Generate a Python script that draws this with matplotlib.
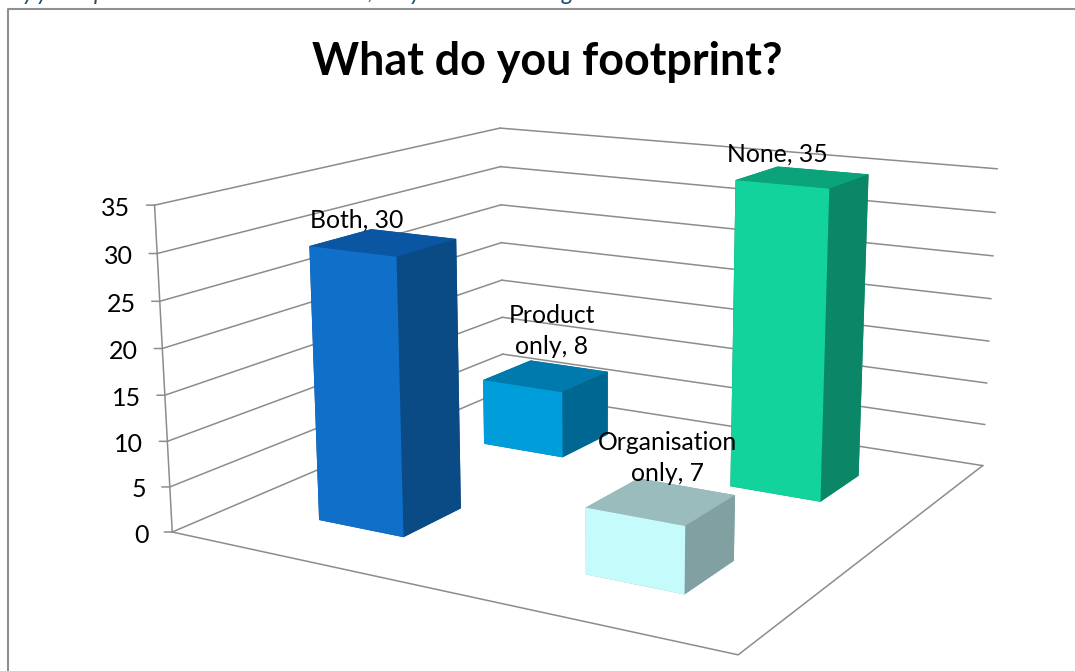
import matplotlib
matplotlib.use('Agg')
import matplotlib.pyplot as plt
from matplotlib.lines import Line2D
from mpl_toolkits.mplot3d import proj3d

plt.rcParams['font.family'] = ['Lato', 'DejaVu Sans']

# Dữ liệu
categories = ['Both', 'Product\nonly', 'Organisation\nonly', 'None']
values = [30, 8, 7, 35]
col_pos = [0, 0, 1, 1]
row_pos = [0, 1, 0, 1]
ticks = [0, 5, 10, 15, 20, 25, 30, 35]
label_offsets = [(-27, 22), (6, 45), (6, 43), (-25, 23)]

# Dòng chữ phía trên bị cắt, chỉ còn thấy phần đuôi ký tự
cut_glyphs = ['y', 'y', 'p', ',', 'y', 'g']
cut_glyph_x = [22, 36, 94, 367, 409, 562]

front_colors = ['#0F6FC9', '#009DDB', '#C6FBFC', '#11D39B']
top_colors = ['#0A56A2', '#0079AD', '#9ABCBD', '#0AA37A']
side_colors = ['#0A4A85', '#006792', '#80A0A1', '#0B8768']

grid_color = '#8C8C8C'
bar_size = 1 / 3
x_max = 2
y_max = 2

fig = plt.figure(figsize=(10.75, 6.71), dpi=100)
ax = fig.add_axes([(584.4 - 500) / 1075, (312.9 - 500) / 671, 1000 / 1075, 1000 / 671], projection='3d')
ax.set_proj_type('persp', focal_length=0.3726)
ax.view_init(elev=14.06, azim=-60.12)
ax.set_box_aspect((1, 0.9794, 0.5272), zoom=0.883)
ax.computed_zorder = False
ax.set_axis_off()
ax.set_xlim(0, x_max)
ax.set_ylim(0, y_max)
ax.set_zlim(0, 35)
ax.apply_aspect()
M = ax.get_proj()

# Lưới trên hai bức tường và sàn
for t in ticks:
    ax.plot([0, 0], [0, y_max], [t, t], color=grid_color, lw=1.1, zorder=1, clip_on=False)
    ax.plot([0, x_max], [y_max, y_max], [t, t], color=grid_color, lw=1.1, zorder=1, clip_on=False)
ax.plot([0, 0], [0, 0], [0, 35], color=grid_color, lw=1.1, zorder=1, clip_on=False)
ax.plot([0, x_max, x_max], [0, 0, y_max], [0, 0, 0], color=grid_color, lw=1.1, zorder=1, clip_on=False)

# Nhãn trục và vạch chia
for t in ticks:
    xs, ys, _ = proj3d.proj_transform(0, 0, t, M)
    ax.annotate('', xy=(xs, ys), xytext=(-8, 0), textcoords='offset pixels',
                arrowprops=dict(arrowstyle='-', color=grid_color, lw=1.1, shrinkA=0, shrinkB=0))
    ax.annotate(str(t), xy=(xs, ys), xytext=(-24, -3), textcoords='offset pixels',
                ha='right', va='center', fontsize=18, color='black')

# Vẽ từ sau ra trước
for i in [1, 3, 0, 2]:
    x = col_pos[i] + bar_size
    y = row_pos[i] + bar_size
    colors = [top_colors[i], top_colors[i], front_colors[i], side_colors[i], side_colors[i], side_colors[i]]
    bars = ax.bar3d(x, y, 0, bar_size, bar_size, values[i], color=colors, shade=False,
                    zorder=3 + (1 - row_pos[i]))
    bars.set_clip_on(False)

for i in range(len(values)):
    x = col_pos[i] + 1.5 * bar_size
    y = row_pos[i] + 1.5 * bar_size
    xs, ys, _ = proj3d.proj_transform(x, y, values[i], M)
    ax.annotate(f'{categories[i]}, {values[i]}', xy=(xs, ys), xytext=label_offsets[i], textcoords='offset pixels',
                ha='center', va='center', fontsize=17.8, color='black', zorder=10, linespacing=1.42,
                annotation_clip=False)

fig.text(547.5 / 1075, 1 - 62 / 671, 'What do you footprint?', ha='center', va='center', fontsize=32.3, fontweight='bold')

for g, gx in zip(cut_glyphs, cut_glyph_x):
    fig.text(gx / 1075, 1.0, g, ha='left', va='baseline', fontsize=17, style='italic', color='#1F4E6E')

# Khung biểu đồ (chỉ cạnh trên và trái)
fig.add_artist(Line2D([8 / 1075, 8 / 1075, 1], [0, 1 - 9 / 671, 1 - 9 / 671], color='#909090', lw=1.5))

fig.savefig('out.png', dpi=100)
